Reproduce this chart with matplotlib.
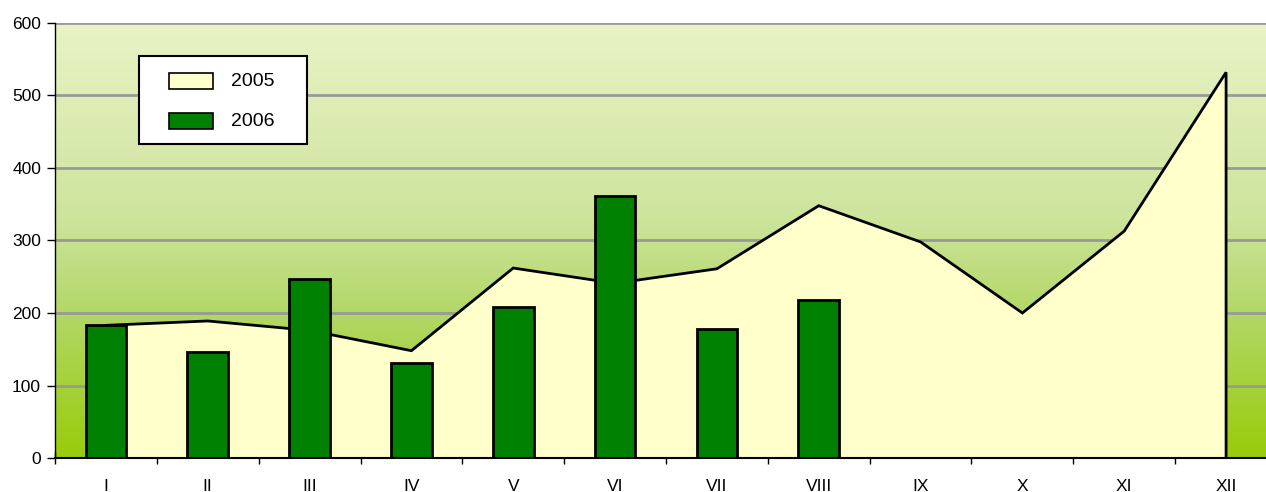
import numpy as np
import matplotlib
matplotlib.use("Agg")
import matplotlib.pyplot as plt
from matplotlib.colors import LinearSegmentedColormap
from matplotlib.patches import Rectangle

plt.rcParams['font.family'] = ['Liberation Sans', 'DejaVu Sans']

months = ["I", "II", "III", "IV", "V", "VI", "VII", "VIII", "IX", "X", "XI", "XII"]
values_2005 = [183, 189, 176, 148, 262, 241, 261, 348, 298, 200, 313, 532]
values_2006 = [183, 146, 247, 131, 208, 361, 178, 218]
series_names = ["2005", "2006"]
series_colors = ["#ffffcc", "#008000"]

W, H = 1266, 492
fig = plt.figure(figsize=(W / 100, H / 100), dpi=100)
left, right, top, bottom = 55, 1277, 23, 458
ax = fig.add_axes([left / W, (H - bottom) / H, (right - left) / W, (bottom - top) / H])

x = np.arange(len(months))
ax.set_xlim(-0.5, len(months) - 0.5)
ax.set_ylim(0, 600)

# gradient background
cmap = LinearSegmentedColormap.from_list(
    "bg", [(0.0, "#99cc0a"), (0.33, "#b2d766"), (0.55, "#cde49c"), (1.0, "#e9f3c6")])
grad = np.linspace(0, 1, 256).reshape(-1, 1)
ax.imshow(grad, extent=[-0.5, len(months) - 0.5, 0, 600], origin="lower",
          aspect="auto", cmap=cmap, zorder=0)

for yv in range(100, 601, 100):
    ax.axhline(yv, color="#999999", lw=2, zorder=1)

ax.fill_between(x, values_2005, 0, facecolor=series_colors[0], edgecolor="none", zorder=2)
ax.plot(np.r_[x[0], x, x[-1]], np.r_[0, values_2005, 0], color="black", lw=2, zorder=3,
        solid_joinstyle="miter")

x6 = np.arange(len(values_2006))
ax.bar(x6, values_2006, width=0.4, color=series_colors[1], edgecolor="black", lw=2, zorder=4)

for s in ["top", "right"]:
    ax.spines[s].set_visible(False)
ax.spines["left"].set_linewidth(1)
ax.spines["bottom"].set_linewidth(1.5)
ax.spines["left"].set_zorder(5)
ax.spines["bottom"].set_zorder(5)

ax.set_yticks(range(0, 601, 100))
ax.tick_params(axis="y", direction="out", length=6, width=1, labelsize=12.5, pad=4)
ax.set_xticks(np.arange(-0.5, len(months), 1))
ax.set_xticklabels([])
ax.set_xticks(x, minor=True)
ax.set_xticklabels(months, minor=True)
ax.tick_params(axis="x", which="major", direction="inout", length=9, width=1)
ax.tick_params(axis="x", which="minor", length=0, labelsize=12.5, pad=15)

# legend drawn in figure pixel coordinates
def fx(px):
    return px / W

def fy(py):
    return 1 - py / H

frame = Rectangle((fx(139), fy(144)), fx(307) - fx(139), fy(56) - fy(144),
                  transform=fig.transFigure, facecolor="white", edgecolor="black",
                  lw=1.5, zorder=10)
fig.add_artist(frame)
for i, (name, col) in enumerate(zip(series_names, series_colors)):
    cy = 81 + 40 * i
    fig.add_artist(Rectangle((fx(169), fy(cy + 8)), fx(213) - fx(169), fy(cy - 8) - fy(cy + 8),
                             transform=fig.transFigure, facecolor=col, edgecolor="black",
                             lw=1.2, zorder=11))
    fig.text(fx(231), fy(cy), name, fontsize=14, va="center", ha="left", zorder=12)

fig.savefig("out.png", dpi=100)
